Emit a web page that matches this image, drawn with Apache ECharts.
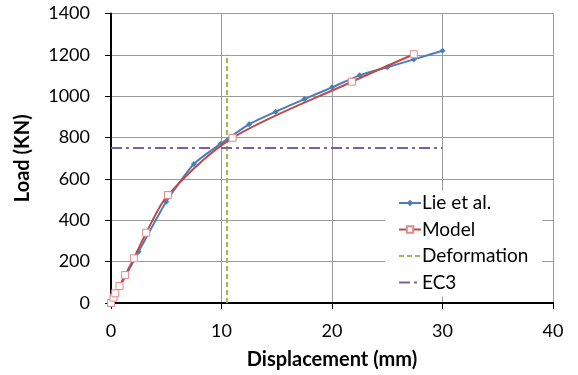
<!DOCTYPE html>
<html>
<head>
<meta charset="utf-8">
<script src="https://cdn.jsdelivr.net/npm/echarts@6/dist/echarts.min.js"></script>
<style>
  html, body { margin: 0; padding: 0; background: #fff; }
  #chart { width: 578px; height: 375px; }
</style>
</head>
<body>
<div id="chart"></div>
<script>
// Lie et al. test data
const lieX = [0, 2.5, 5, 7.5, 9.9, 12.5, 14.9, 17.5, 20, 22.5, 25, 27.4, 30]
const lieY = [0, 248, 490, 672, 769, 864, 925, 986, 1043, 1101, 1140, 1178, 1220]

// Model results
const modelX = [0, 0.23, 0.38, 0.77, 1.28, 2.07, 3.19, 5.15, 11.0, 21.8, 27.4]
const modelY = [0, 26, 47, 82, 135, 216, 340, 522, 799, 1070, 1203]

// reference lines
const deformationX = [10.5, 10.5]
const deformationY = [0, 1200]
const ec3X = [0, 30]
const ec3Y = [750, 750]

const pairs = (xs, ys) => xs.map((x, i) => [x, ys[i]])

const font = 'Lato, "Open Sans", sans-serif'
const chart = echarts.init(document.getElementById('chart'))

const option = {
  animation: false,
  textStyle: { fontFamily: font },
  grid: { left: 111, right: 25, top: 13.5, bottom: 71.5 },
  legend: {
    orient: 'vertical',
    left: 385,
    top: 190,
    itemWidth: 22,
    itemHeight: 8,
    itemGap: 6.5,
    padding: [3, 14, 4, 13],
    backgroundColor: '#fff',
    textStyle: { fontSize: 19, lineHeight: 20, color: '#000', fontFamily: font, padding: [0, 0, 0, -4] },
    data: [
      { name: 'Lie et al.' },
      { name: 'Model' },
      { name: 'Deformation', itemStyle: { opacity: 0 } },
      { name: 'EC3', itemStyle: { opacity: 0 } }
    ]
  },
  xAxis: {
    type: 'value',
    min: 0,
    max: 40,
    interval: 10,
    name: 'Displacement (mm)',
    nameLocation: 'middle',
    nameGap: 47,
    nameTextStyle: { fontSize: 20, fontWeight: 'bold', color: '#000', fontFamily: font },
    axisLine: { show: true, onZero: false, lineStyle: { color: '#000', width: 2 } },
    axisTick: { show: true, length: 6, lineStyle: { color: '#000', width: 1 } },
    axisLabel: { fontSize: 18, color: '#000', margin: 19, fontFamily: font },
    splitLine: { show: true, lineStyle: { color: '#9a9a9a', width: 1 } }
  },
  yAxis: {
    type: 'value',
    min: 0,
    max: 1400,
    interval: 200,
    name: 'Load (KN)',
    nameLocation: 'middle',
    nameGap: 78,
    nameTextStyle: { fontSize: 20, fontWeight: 'bold', color: '#000', fontFamily: font },
    axisLine: { show: true, onZero: false, lineStyle: { color: '#000', width: 2 } },
    axisTick: { show: true, length: 6, lineStyle: { color: '#000', width: 1 } },
    axisLabel: { fontSize: 18, color: '#000', margin: 21, fontFamily: font, formatter: v => String(v) },
    splitLine: { show: true, lineStyle: { color: '#9a9a9a', width: 1 } }
  },
  series: [
    {
      name: 'Lie et al.',
      type: 'line',
      data: pairs(lieX, lieY),
      smooth: 0.2,
      symbol: 'diamond',
      symbolSize: 6,
      itemStyle: { color: '#4a7ebb' },
      lineStyle: { color: '#4a7ebb', width: 2 },
      z: 3
    },
    {
      name: 'Model',
      type: 'line',
      data: pairs(modelX, modelY),
      smooth: 0.3,
      symbol: 'rect',
      symbolSize: 7,
      showAllSymbol: true,
      itemStyle: { color: '#fff', borderColor: '#e0888a', borderWidth: 1 },
      lineStyle: { color: '#be4b48', width: 2 },
      z: 4
    },
    {
      name: 'Deformation',
      type: 'line',
      data: pairs(deformationX, deformationY),
      symbol: 'none',
      itemStyle: { color: '#9bbb59' },
      lineStyle: { color: '#9bbb59', width: 2, type: [5, 3] },
      z: 2
    },
    {
      name: 'EC3',
      type: 'line',
      data: pairs(ec3X, ec3Y),
      symbol: 'none',
      itemStyle: { color: '#7d60a0' },
      lineStyle: { color: '#7d60a0', width: 2, type: [11, 4, 3, 4] },
      z: 2
    }
  ]
}

chart.setOption(option)
window.addEventListener('resize', () => chart.resize())
</script>
</body>
</html>
